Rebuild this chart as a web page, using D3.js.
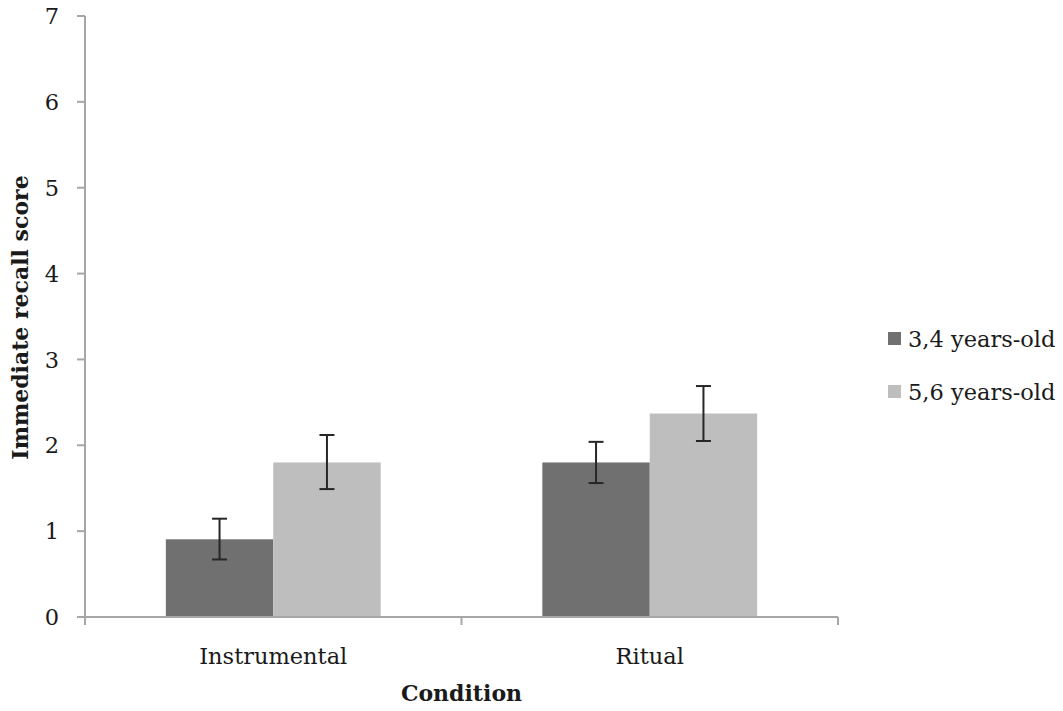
<!DOCTYPE html>
<html>
<head>
<meta charset="utf-8">
<script src="https://cdn.jsdelivr.net/npm/d3@7"></script>
<style>
  body { margin: 0; background: #fff; }
  text { font-family: "DejaVu Serif", serif; fill: #1a1a1a; }
</style>
</head>
<body>
<div id="chart"></div>
<script>
// Chart data
const conditions = ['Instrumental', 'Ritual'];
const groups = ['3,4 years-old', '5,6 years-old'];
const means = [[0.905, 1.80], [1.80, 2.37]];        // [condition][group]
const err_low = [[0.67, 1.49], [1.56, 2.05]];
const err_high = [[1.145, 2.12], [2.04, 2.69]];
const y_ticks = [0, 1, 2, 3, 4, 5, 6, 7];

const C = {
  width: 1063,
  height: 711,
  margin: {left: 85, right: 225, top: 16, bottom: 94},
  colors: ['#707070', '#bebebe'],
  axis_color: '#a6a6a6',
  err_color: '#262626',
  font_size: 22.5,
  title_size: 22,
};

const svg = d3.select('#chart').append('svg')
  .attr('width', C.width)
  .attr('height', C.height);

const x0 = C.margin.left, x1 = C.width - C.margin.right;
const y0 = C.height - C.margin.bottom, y1 = C.margin.top;

const X = d3.scaleBand().domain(conditions).range([x0, x1])
  .paddingInner(0).paddingOuter(0);
// Excel style gap width: bars take 215 of each 376px category
const gap = X.bandwidth() * 0.2147;
const inner = d3.scaleBand().domain(groups)
  .range([gap, X.bandwidth() - gap]);
const Y = d3.scaleLinear().domain([0, 7]).range([y0, y1]);

// Y axis
svg.append('line')
  .attr('x1', x0).attr('x2', x0).attr('y1', y1).attr('y2', y0)
  .attr('stroke', C.axis_color).attr('stroke-width', 2);
svg.selectAll('.ytick').data(y_ticks).join('line')
  .attr('x1', x0 - 8).attr('x2', x0)
  .attr('y1', d => Y(d)).attr('y2', d => Y(d))
  .attr('stroke', C.axis_color).attr('stroke-width', 2);
svg.selectAll('.ylab').data(y_ticks).join('text')
  .attr('x', 59).attr('y', d => Y(d))
  .attr('dy', '0.36em')
  .attr('text-anchor', 'end')
  .style('font-size', C.font_size + 'px')
  .text(d => d);

// Bars
const rows = [];
conditions.forEach((c, i) => groups.forEach((g, j) => rows.push({
  c, g, j, v: means[i][j], lo: err_low[i][j], hi: err_high[i][j]
})));

svg.selectAll('.bar').data(rows).join('rect')
  .attr('x', d => X(d.c) + inner(d.g))
  .attr('width', inner.bandwidth())
  .attr('y', d => Y(d.v))
  .attr('height', d => Y(0) - Y(d.v))
  .attr('fill', d => C.colors[d.j]);

// X axis
svg.append('line')
  .attr('x1', x0).attr('x2', x1).attr('y1', y0).attr('y2', y0)
  .attr('stroke', C.axis_color).attr('stroke-width', 2);
const x_bounds = [x0, X('Ritual'), x1];
svg.selectAll('.xtick').data(x_bounds).join('line')
  .attr('x1', d => d).attr('x2', d => d)
  .attr('y1', y0).attr('y2', y0 + 8)
  .attr('stroke', C.axis_color).attr('stroke-width', 2);
svg.selectAll('.xlab').data(conditions).join('text')
  .attr('x', d => X(d) + X.bandwidth() / 2)
  .attr('y', 664)
  .attr('text-anchor', 'middle')
  .style('font-size', C.font_size + 'px')
  .text(d => d);

// Error bars
const cx = d => X(d.c) + inner(d.g) + inner.bandwidth() / 2;
const eb = svg.append('g')
  .attr('stroke', C.err_color).attr('stroke-width', 2);
eb.selectAll('.ev').data(rows).join('line')
  .attr('x1', cx).attr('x2', cx)
  .attr('y1', d => Y(d.hi)).attr('y2', d => Y(d.lo));
eb.selectAll('.et').data(rows).join('line')
  .attr('x1', d => cx(d) - 7.5).attr('x2', d => cx(d) + 7.5)
  .attr('y1', d => Y(d.hi)).attr('y2', d => Y(d.hi));
eb.selectAll('.eb').data(rows).join('line')
  .attr('x1', d => cx(d) - 7.5).attr('x2', d => cx(d) + 7.5)
  .attr('y1', d => Y(d.lo)).attr('y2', d => Y(d.lo));

// Axis titles
svg.append('text')
  .attr('x', (x0 + x1) / 2).attr('y', 701)
  .attr('text-anchor', 'middle')
  .style('font-size', C.title_size + 'px')
  .style('font-weight', 'bold')
  .text('Condition');
svg.append('text')
  .attr('transform', `translate(28, ${(y0 + y1) / 2 + 1}) rotate(-90)`)
  .attr('text-anchor', 'middle')
  .style('font-size', C.title_size + 'px')
  .style('font-weight', 'bold')
  .text('Immediate recall score');

// Legend
const legend = svg.selectAll('.leg').data(groups).join('g')
  .attr('transform', (d, i) => `translate(888, ${332 + i * 53})`);
legend.append('rect')
  .attr('width', 13).attr('height', 13)
  .attr('fill', (d, i) => C.colors[i]);
legend.append('text')
  .attr('x', 20).attr('y', 6.5).attr('dy', '0.36em')
  .style('font-size', C.font_size + 'px')
  .text(d => d);
</script>
</body>
</html>
